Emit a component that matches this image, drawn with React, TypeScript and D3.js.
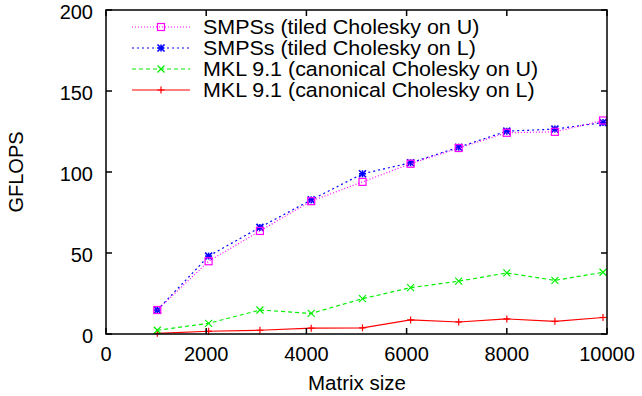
import React, { useEffect, useRef } from "react";
import * as d3 from "d3";

// matrix sizes and GFLOPS
const sizes = [1024, 2048, 3072, 4096, 5120, 6080, 7040, 8000, 8960, 9920];
const tiledU = [14.8, 44.9, 63.6, 82, 93.9, 105.1, 114.8, 124.2, 124.8, 131.8];
const tiledL = [14.8, 48.1, 65.8, 82.8, 98.9, 105.7, 115.3, 125.2, 126.5, 130.5];
const mklU = [2.3, 6.6, 14.8, 12.7, 21.8, 28.6, 32.6, 37.7, 33.1, 38.1];
const mklL = [0.4, 1.7, 2.3, 3.6, 3.8, 8.7, 7.4, 9.3, 7.8, 10.2];

const seriesNames = [
  "SMPSs (tiled Cholesky on U)",
  "SMPSs (tiled Cholesky on L)",
  "MKL 9.1 (canonical Cholesky on U)",
  "MKL 9.1 (canonical Cholesky on L)",
];
const xTicks = [0, 2000, 4000, 6000, 8000, 10000];
const yTicks = [0, 50, 100, 150, 200];

const styles = [
  { color: "#ff00ff", dash: "1,2", marker: "square" },
  { color: "#0000ff", dash: "2,3", marker: "star" },
  { color: "#00f000", dash: "4,3", marker: "cross" },
  { color: "#ff0000", dash: null, marker: "plus" },
];

function App() {
  const svgRef = useRef(null);

  useEffect(() => {
    const svg = d3.select(svgRef.current);
    svg.selectAll("*").remove();

    const left = 106, right = 607, top = 10, bottom = 334;
    const x = d3.scaleLinear().domain([0, 10000]).range([left, right]);
    const y = d3.scaleLinear().domain([0, 200]).range([bottom, top]);
    const font = "'Liberation Sans', Arial, sans-serif";

    const allSeries = [tiledU, tiledL, mklU, mklL];

    const drawMarker = (g, kind, cx, cy, color) => {
      const s = 3.5;
      if (kind === "square") {
        g.append("rect").attr("x", cx - s).attr("y", cy - s).attr("width", 2 * s).attr("height", 2 * s)
          .attr("fill", "none").attr("stroke", color).attr("stroke-width", 1.2);
      } else {
        const segs = [];
        if (kind === "plus" || kind === "star") segs.push([cx - s, cy, cx + s, cy], [cx, cy - s, cx, cy + s]);
        if (kind === "cross" || kind === "star") segs.push([cx - s, cy - s, cx + s, cy + s], [cx - s, cy + s, cx + s, cy - s]);
        segs.forEach((p) =>
          g.append("line").attr("x1", p[0]).attr("y1", p[1]).attr("x2", p[2]).attr("y2", p[3])
            .attr("stroke", color).attr("stroke-width", kind === "star" ? 1.6 : 1.2)
        );
      }
    };

    // series, drawn last-first so the tiled curves sit on top
    const line = d3.line().x((d) => x(d[0])).y((d) => y(d[1]));
    [3, 2, 1, 0].forEach((i) => {
      const st = styles[i];
      const pts = sizes.map((s, j) => [s, allSeries[i][j]]);
      svg.append("path").datum(pts).attr("d", line).attr("fill", "none")
        .attr("stroke", st.color).attr("stroke-width", 1.2)
        .attr("stroke-dasharray", st.dash);
      const g = svg.append("g");
      pts.forEach((p) => drawMarker(g, st.marker, x(p[0]), y(p[1]), st.color));
    });

    // frame and inward ticks on all four sides
    const frame = svg.append("g").attr("stroke", "#000").attr("stroke-width", 1.5);
    frame.append("rect").attr("x", left).attr("y", top).attr("width", right - left).attr("height", bottom - top)
      .attr("fill", "none");
    xTicks.forEach((t) => {
      frame.append("line").attr("x1", x(t)).attr("x2", x(t)).attr("y1", bottom).attr("y2", bottom - 6);
      frame.append("line").attr("x1", x(t)).attr("x2", x(t)).attr("y1", top).attr("y2", top + 6);
    });
    yTicks.forEach((t) => {
      frame.append("line").attr("x1", left).attr("x2", left + 6).attr("y1", y(t)).attr("y2", y(t));
      frame.append("line").attr("x1", right).attr("x2", right - 6).attr("y1", y(t)).attr("y2", y(t));
    });

    svg.append("g").selectAll("text").data(xTicks).enter().append("text")
      .attr("x", (d) => x(d)).attr("y", 361).attr("text-anchor", "middle")
      .attr("font-family", font).attr("font-size", 20).text((d) => d);
    svg.append("g").selectAll("text").data(yTicks).enter().append("text")
      .attr("x", 93).attr("y", (d) => y(d) + 9).attr("text-anchor", "end")
      .attr("font-family", font).attr("font-size", 20).text((d) => d);

    svg.append("text").attr("x", 357).attr("y", 390).attr("text-anchor", "middle")
      .attr("font-family", font).attr("font-size", 20.5).text("Matrix size");
    svg.append("text").attr("transform", "translate(23,172) rotate(-90)").attr("text-anchor", "middle")
      .attr("font-family", font).attr("font-size", 20).text("GFLOPS");

    // legend (text slightly stretched horizontally, as in the original)
    const leg = svg.append("g");
    seriesNames.forEach((name, i) => {
      const st = styles[i];
      const ly = 27 + i * 21;
      leg.append("line").attr("x1", 132).attr("x2", 190).attr("y1", ly).attr("y2", ly)
        .attr("stroke", st.color).attr("stroke-width", 1.2).attr("stroke-dasharray", st.dash);
      drawMarker(leg, st.marker, 161, ly, st.color);
      leg.append("text").attr("transform", `translate(203,${ly + 7}) scale(1.1,1)`)
        .attr("font-family", font).attr("font-size", 19.5).text(name);
    });
  }, []);

  return <svg ref={svgRef} width={642} height={396} style={{ position: "absolute", left: 0, top: 0 }} />;
}

export default App;
